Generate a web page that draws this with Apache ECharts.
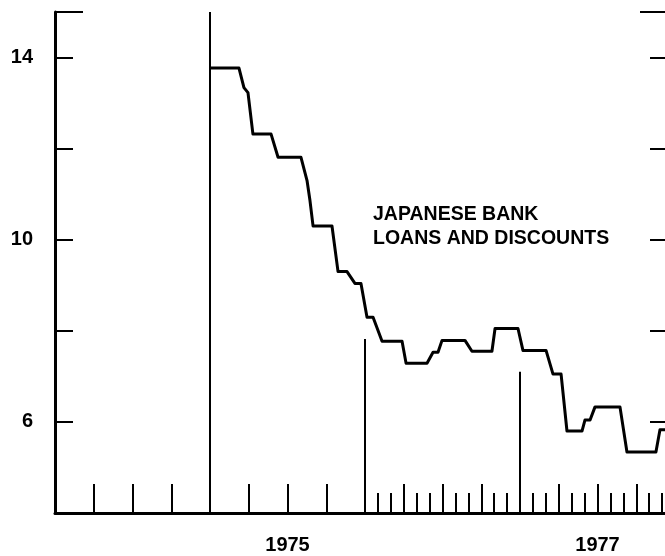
<!DOCTYPE html>
<html>
<head>
<meta charset="utf-8">
<script src="https://cdn.jsdelivr.net/npm/echarts@6/dist/echarts.min.js"></script>
<style>html,body{margin:0;padding:0;background:#fff;}#chart{width:665px;height:556px;}</style>
</head>
<body>
<div id="chart"></div>
<script>
// Decimal-year dates and Japanese bank loan & discount rates (%)
var dates = [1975.000, 1975.187, 1975.219, 1975.245, 1975.277, 1975.394, 1975.439, 1975.587,
  1975.626, 1975.645, 1975.665, 1975.787, 1975.826, 1975.884, 1975.935, 1975.974,
  1976.013, 1976.052, 1976.110, 1976.239, 1976.265, 1976.400, 1976.439, 1976.471,
  1976.497, 1976.645, 1976.690, 1976.819, 1976.839, 1976.987, 1977.019, 1977.168,
  1977.213, 1977.265, 1977.303, 1977.400, 1977.419, 1977.452, 1977.484, 1977.645,
  1977.690, 1977.877, 1977.903, 1978.000];
var rates = [13.77, 13.77, 13.34, 13.23, 12.32, 12.32, 11.81, 11.81,
  11.30, 10.86, 10.30, 10.30, 9.30, 9.30, 9.04, 9.04,
  8.30, 8.30, 7.77, 7.77, 7.29, 7.29, 7.53, 7.53,
  7.79, 7.79, 7.55, 7.55, 8.05, 8.05, 7.57, 7.57,
  7.05, 7.05, 5.80, 5.80, 6.04, 6.04, 6.33, 6.33,
  5.34, 5.34, 5.83, 5.83];

var yTicks = [6, 8, 10, 12, 14];
var yLabels = [6, 10, 14];
var yTop = [15];
var quarterTicks = [1974.25, 1974.5, 1974.75, 1975.25, 1975.5, 1975.75,
  1976.25, 1976.5, 1976.75, 1977.25, 1977.5, 1977.75];
var monthTicks = [1976 + 1/12, 1976 + 2/12, 1976 + 4/12, 1976 + 5/12, 1976 + 7/12, 1976 + 8/12,
  1976 + 10/12, 1976 + 11/12, 1977 + 1/12, 1977 + 2/12, 1977 + 4/12, 1977 + 5/12,
  1977 + 7/12, 1977 + 8/12, 1977 + 10/12, 1977 + 11/12];
var yearLabelPos = [1975.5, 1977.5];
var yearLines = [1975, 1976, 1977];
var yearLineTops = [15, 7.82, 7.10];
var annotation = ['JAPANESE BANK', 'LOANS AND DISCOUNTS'];

var seriesData = dates.map(function (d, i) { return [d, rates[i]]; });
var FONT = '"Liberation Sans", Arial, sans-serif';

function yAx(pos, ticks, len, showLine, labels) {
  return {
    type: 'value', min: 4, max: 15, position: pos,
    splitLine: { show: false },
    axisLine: { show: showLine, lineStyle: { color: '#000', width: 3 } },
    axisTick: { show: true, inside: true, length: len, customValues: ticks,
      lineStyle: { color: '#000', width: 2 } },
    axisLabel: labels ? { show: true, customValues: labels, margin: 22,
      color: '#000', fontFamily: FONT, fontWeight: 'bold', fontSize: 20 } : { show: false }
  };
}
function xAx(ticks, len, showLine, labels) {
  return {
    type: 'value', min: 1974, max: 1978, position: 'bottom',
    splitLine: { show: false },
    axisLine: { show: showLine, lineStyle: { color: '#000', width: 3 } },
    axisTick: { show: true, inside: true, length: len, customValues: ticks,
      lineStyle: { color: '#000', width: 2 } },
    axisLabel: labels ? { show: true, customValues: labels, margin: 22,
      formatter: function (v) { return String(Math.floor(v)); },
      color: '#000', fontFamily: FONT, fontWeight: 'bold', fontSize: 20 } : { show: false }
  };
}

var chart = echarts.init(document.getElementById('chart'), null, { renderer: 'canvas' });
chart.setOption({
  animation: false,
  backgroundColor: '#fff',
  grid: { left: 55, top: 12, width: 620, height: 501, containLabel: false, outerBoundsMode: 'none' },
  xAxis: [
    xAx(quarterTicks, 29, true, yearLabelPos),
    xAx(monthTicks, 20, false, null)
  ],
  yAxis: [
    yAx('left', yTicks, 18, true, yLabels),
    yAx('left', yTop, 28, false, null),
    yAx('right', yTicks, 25, true, null),
    yAx('right', yTop, 35, false, null)
  ],
  graphic: [{
    type: 'text', left: 373, top: 203,
    style: { text: annotation.join('\n'), fill: '#000',
      font: 'bold 19.5px ' + FONT, lineHeight: 24 }
  }],
  series: [{
    type: 'line', xAxisIndex: 0, yAxisIndex: 0,
    data: seriesData, showSymbol: false, clip: false,
    lineStyle: { color: '#000', width: 3, join: 'round' },
    markLine: {
      silent: true, symbol: ['none', 'none'], label: { show: false },
      lineStyle: { color: '#000', width: 2, type: 'solid' },
      data: yearLines.map(function (yr, i) {
        return [{ coord: [yr, 4] }, { coord: [yr, yearLineTops[i]] }];
      })
    }
  }]
});
</script>
</body>
</html>
